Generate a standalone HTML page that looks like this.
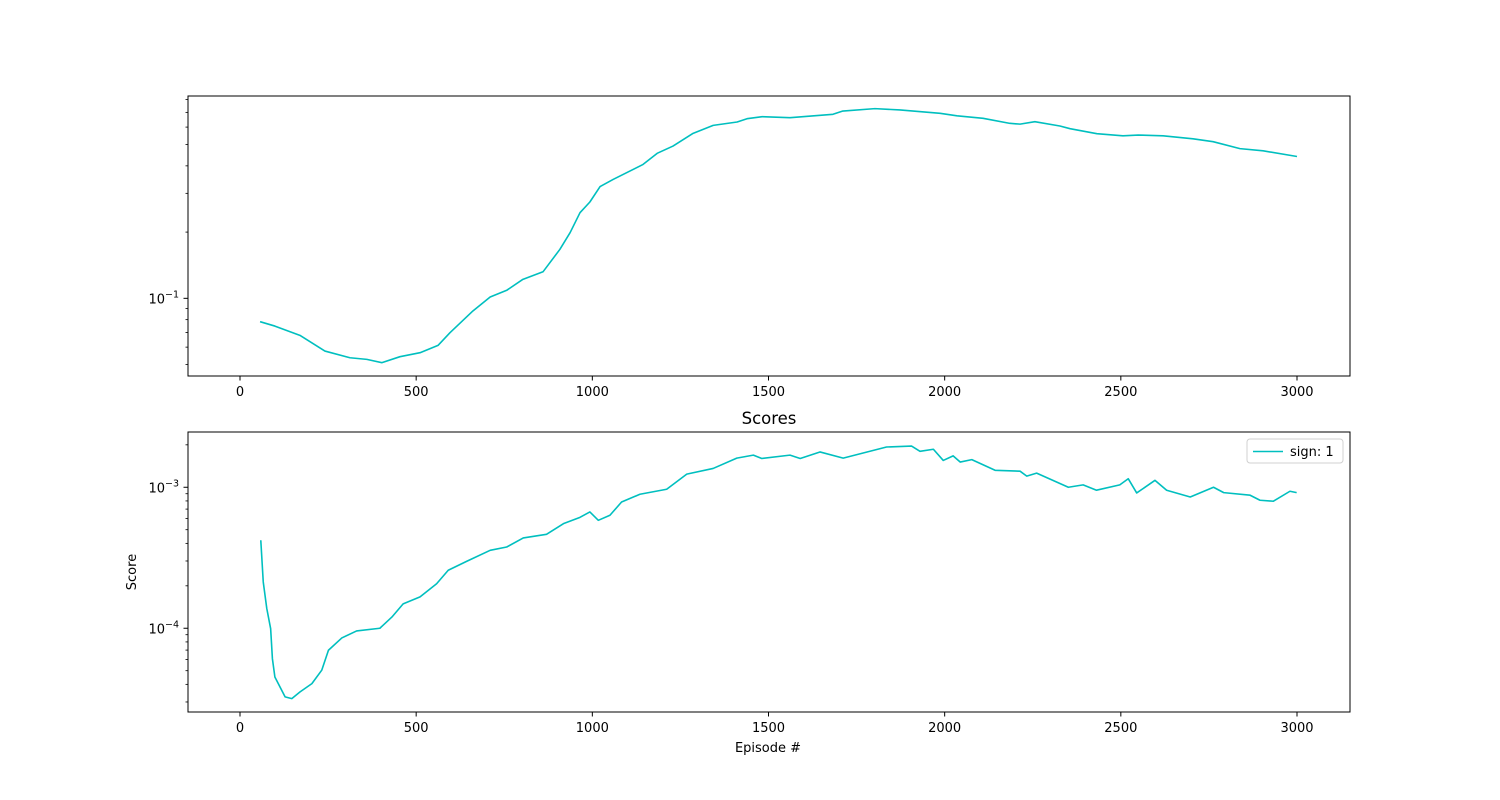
<!DOCTYPE html>
<html><head><meta charset="utf-8"><style>
html,body{margin:0;padding:0;background:#fff;}
svg{display:block;font-family:"DejaVu Sans","Liberation Sans",sans-serif;}
</style></head><body>
<svg id="fig" width="1500" height="800" viewBox="0 0 1500 800">
<rect x="0" y="0" width="1500" height="800" fill="#fff"/>
</svg>
<script>
const topEpisodes=[57,99,170,241,312,360,403,454,511,562,596,661,710,758,803,860,908,937,965,993,1022,1059,1144,1184,1229,1286,1343,1411,1439,1482,1561,1683,1711,1802,1873,1987,2035,2109,2185,2214,2256,2327,2356,2432,2506,2549,2620,2705,2762,2838,2904,3000];
const topValues=[0.0783,0.0748,0.0679,0.0576,0.0537,0.0528,0.0510,0.0543,0.0566,0.0611,0.0698,0.0876,0.1014,0.109,0.122,0.132,0.167,0.199,0.245,0.274,0.322,0.347,0.406,0.456,0.492,0.562,0.611,0.633,0.655,0.669,0.662,0.686,0.710,0.728,0.718,0.693,0.675,0.658,0.624,0.619,0.635,0.607,0.590,0.560,0.548,0.552,0.548,0.531,0.515,0.479,0.468,0.441];
const botEpisodes=[59,66,76,87,92,99,128,147,170,204,232,251,289,331,397,431,463,511,558,591,643,710,757,804,870,918,965,993,1017,1050,1083,1135,1211,1268,1343,1410,1457,1481,1561,1590,1646,1712,1835,1906,1930,1968,1996,2024,2044,2077,2143,2214,2233,2261,2351,2393,2431,2497,2521,2545,2597,2630,2697,2763,2792,2867,2895,2933,2980,2999];
const botValues=[4.21e-4,2.13e-4,1.38e-4,9.93e-5,6.08e-5,4.51e-5,3.26e-5,3.17e-5,3.53e-5,4.05e-5,5.04e-5,6.98e-5,8.54e-5,9.57e-5,1.00e-4,1.20e-4,1.49e-4,1.67e-4,2.07e-4,2.58e-4,2.98e-4,3.57e-4,3.77e-4,4.37e-4,4.64e-4,5.52e-4,6.12e-4,6.68e-4,5.83e-4,6.33e-4,7.86e-4,8.92e-4,9.68e-4,1.24e-3,1.36e-3,1.61e-3,1.69e-3,1.60e-3,1.69e-3,1.60e-3,1.78e-3,1.61e-3,1.93e-3,1.96e-3,1.80e-3,1.86e-3,1.55e-3,1.67e-3,1.51e-3,1.57e-3,1.32e-3,1.30e-3,1.20e-3,1.26e-3,1.00e-3,1.04e-3,9.53e-4,1.04e-3,1.15e-3,9.11e-4,1.12e-3,9.53e-4,8.53e-4,1.00e-3,9.16e-4,8.78e-4,8.09e-4,7.96e-4,9.37e-4,9.16e-4];
const xTicks=[0,500,1000,1500,2000,2500,3000];
const topMinor=[0.05,0.06,0.07,0.08,0.09,0.2,0.3,0.4,0.5,0.6,0.7,0.8];
const topMajor=[{v:0.1,e:"−1"}];
const botMinor=[3e-5,4e-5,5e-5,6e-5,7e-5,8e-5,9e-5,2e-4,3e-4,4e-4,5e-4,6e-4,7e-4,8e-4,9e-4,2e-3];
const botMajor=[{v:1e-4,e:"−4"},{v:1e-3,e:"−3"}];

const NS="http://www.w3.org/2000/svg";
const svg=document.getElementById('fig');
function mk(tag,attrs,parent){const e=document.createElementNS(NS,tag);for(const k in attrs)e.setAttribute(k,attrs[k]);(parent||svg).appendChild(e);return e;}
const X0=188,X1=1350;
function xs(v){return 240+v*(1057/3000);}
function makeAxes(name,top,bottom,logMin,logMax,eps,vals,minor,major){
  const g=mk('g',{});
  
  
  const ys=v=>bottom-(Math.log10(v)-logMin)/(logMax-logMin)*(bottom-top);
  let d='';
  for(let i=0;i<eps.length;i++){d+=(i?'L':'M')+xs(eps[i]).toFixed(2)+','+ys(vals[i]).toFixed(2);}
  const p=mk('path',{d:d,fill:'none',stroke:'#00bfbf','stroke-width':1.6,'stroke-linejoin':'round'},g);
  
  
  const fr=mk('rect',{x:X0,y:top,width:X1-X0,height:bottom-top,fill:'none',stroke:'#000','stroke-width':1},g);
  
  
  for(const t of xTicks){
    const x=xs(t);
    mk('line',{x1:x,y1:bottom,x2:x,y2:bottom+4.5,stroke:'#000','stroke-width':1},g);
    const tx=mk('text',{x:x,y:bottom+20,'text-anchor':'middle','font-size':13,fill:'#000'},g);
    tx.textContent=String(t);
    
    
  }
  for(const v of minor){const y=ys(v);mk('line',{x1:X0-2.5,y1:y,x2:X0,y2:y,stroke:'#000','stroke-width':0.8},g);}
  for(const m of major){
    const y=ys(m.v);
    mk('line',{x1:X0-4.5,y1:y,x2:X0,y2:y,stroke:'#000','stroke-width':1},g);
    const tx=mk('text',{x:X0-9,y:y+5,'text-anchor':'end','font-size':13,fill:'#000'},g);
    
    
    const a=mk('tspan',{},tx);a.textContent='10';
    const b=mk('tspan',{dy:-6,'font-size':9.5},tx);b.textContent=m.e;
  }
  return g;
}
makeAxes('top-axes',96,376,-1.353,-0.0805,topEpisodes,topValues,topMinor,topMajor);
makeAxes('bottom-axes',432,712,-4.594,-2.608,botEpisodes,botValues,botMinor,botMajor);
</script>
<svg width="0" height="0"></svg>
<script>
(function(){
const NS="http://www.w3.org/2000/svg";const svg=document.getElementById('fig');
function mk(tag,attrs){const e=document.createElementNS(NS,tag);for(const k in attrs)e.setAttribute(k,attrs[k]);svg.appendChild(e);return e;}
let t=mk('text',{x:769,y:424,'text-anchor':'middle','font-size':16.5,fill:'#000'});t.textContent='Scores';


t=mk('text',{x:768,y:752,'text-anchor':'middle','font-size':13,fill:'#000'});t.textContent='Episode #';


t=mk('text',{x:136,y:572,'text-anchor':'middle','font-size':13,fill:'#000',transform:'rotate(-90 136 572)'});t.textContent='Score';


const lg=mk('rect',{x:1247,y:439,width:96,height:24,rx:3,fill:'#fff',stroke:'#d0d0d0','stroke-width':1});


const ll=mk('line',{x1:1253,y1:451.5,x2:1283,y2:451.5,stroke:'#00bfbf','stroke-width':1.6});


t=mk('text',{x:1290,y:456,'font-size':13,fill:'#000'});t.textContent='sign: 1';


})();
</script>
</body></html>
